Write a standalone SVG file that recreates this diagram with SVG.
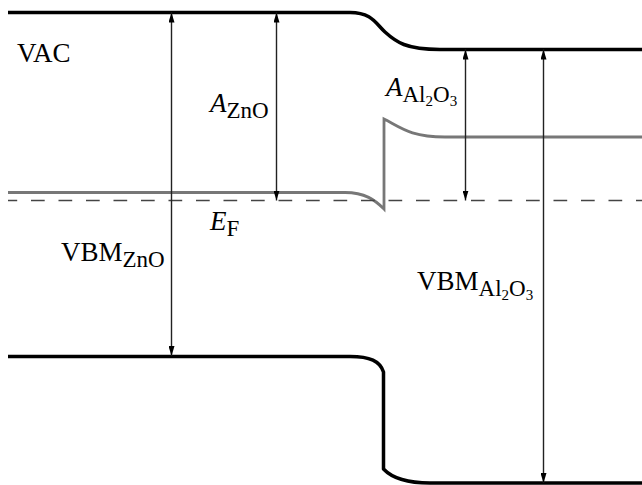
<svg xmlns="http://www.w3.org/2000/svg" width="642" height="485" viewBox="0 0 642 485">
<defs>
<style>
.band{fill:none;stroke:#000;stroke-width:3.5;stroke-linejoin:round}
.cb{fill:none;stroke:#777;stroke-width:2.8;stroke-linejoin:miter}
.ef{fill:none;stroke:#444;stroke-width:1.7;stroke-dasharray:13.7 13.8;stroke-dashoffset:4.5}
.arr{fill:none;stroke:#222;stroke-width:1.4;marker-start:url(#ah);marker-end:url(#ah)}
text{font-family:"Liberation Serif","Times New Roman",serif;fill:#000}
.m{font-size:27px}
.s{font-size:23px}
.ss{font-size:15px}
.i{font-style:italic}
</style>
<marker id="ah" viewBox="0 0 10 6" refX="10" refY="3" markerWidth="10" markerHeight="6" markerUnits="userSpaceOnUse" orient="auto-start-reverse">
<path d="M0,0 L10,3 L0,6 Z" fill="#000"/>
</marker>
</defs>
<g id="bands">
<g id="vac"><path class="band" d="M8,12.5 H350 C372,12.5 376,24 385,32 C396,42 406,49.5 440,49.5 H642"/></g>
<g id="cbm"><path class="cb" d="M8,192.5 H345 C365,192.5 375,200 384,209 V119 C400,127 410,137 445,137 H642"/></g>
<g id="fermi"><path class="ef" d="M8,200.5 H642"/></g>
<g id="vbm"><path class="band" d="M8,356.5 H350 C370,356.5 380,361 383.5,372 V469 C392,478 405,483 430,483 H642"/></g>
</g>
<g id="connectors">
<path class="arr" d="M171.5,356 V12.5"/>
<path class="arr" d="M276.5,200.5 V12.5"/>
<path class="arr" d="M465.5,200.5 V49.5"/>
<path class="arr" d="M543.5,483 V49.5"/>
</g>
<g id="labels">
<g id="lbl-vac"><text class="m" x="17" y="62">VAC</text></g>
<g id="lbl-azno"><text class="m" x="210" y="112"><tspan class="i">A</tspan><tspan class="s" dy="6">ZnO</tspan></text></g>
<g id="lbl-ef"><text class="m" x="210" y="230"><tspan class="i">E</tspan><tspan class="s" dy="6">F</tspan></text></g>
<g id="lbl-vbmzno"><text class="m" x="61" y="261"><tspan>VBM</tspan><tspan class="s" dy="6">ZnO</tspan></text></g>
<g id="lbl-aal"><text class="m" x="386" y="96"><tspan class="i">A</tspan><tspan class="s" dy="6">Al</tspan><tspan class="ss" dy="4">2</tspan><tspan class="s" dy="-4">O</tspan><tspan class="ss" dy="4">3</tspan></text></g>
<g id="lbl-vbmal"><text class="m" x="417" y="290"><tspan>VBM</tspan><tspan class="s" dy="6">Al</tspan><tspan class="ss" dy="4">2</tspan><tspan class="s" dy="-4">O</tspan><tspan class="ss" dy="4">3</tspan></text></g>
</g>
</svg>
